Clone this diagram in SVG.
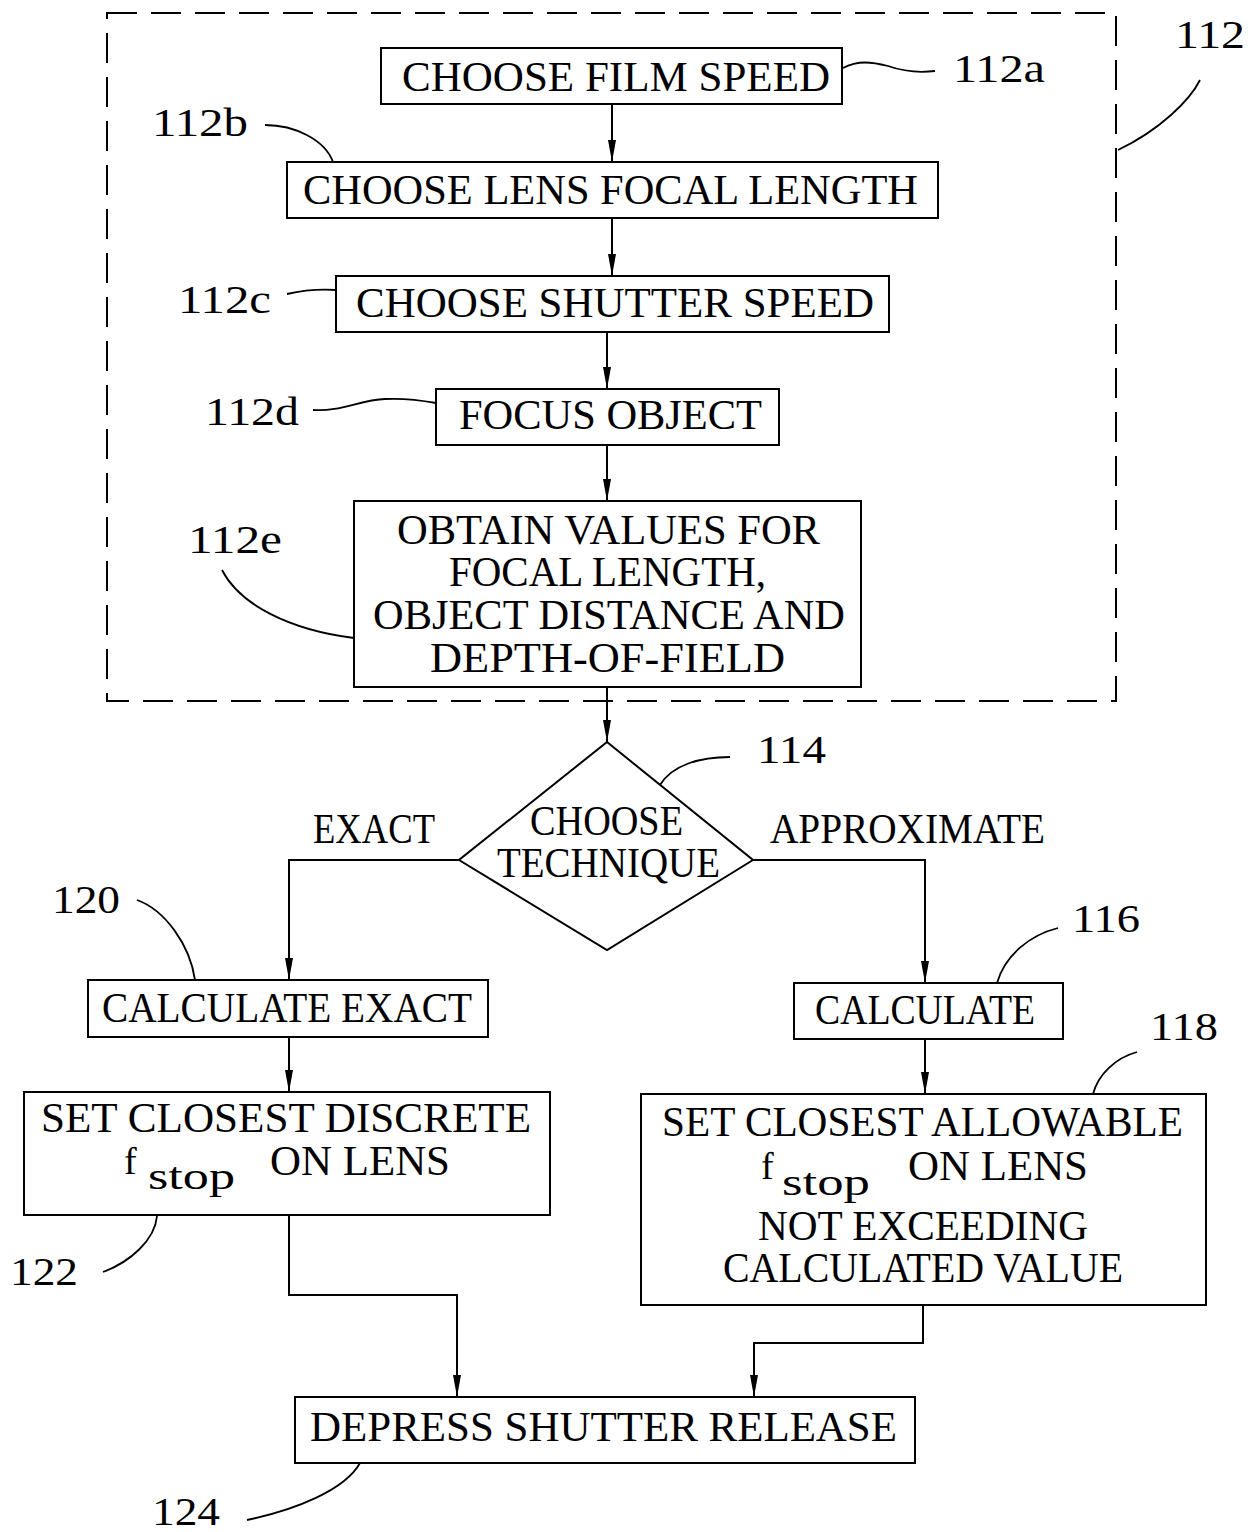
<svg xmlns="http://www.w3.org/2000/svg" width="1253" height="1532" viewBox="0 0 1253 1532">
  <style>
    .box { fill: #fff; stroke: #000; stroke-width: 2; }
    .line { fill: none; stroke: #000; stroke-width: 2; }
    .lead { fill: none; stroke: #000; stroke-width: 1.8; }
    .t { font-family: "Liberation Serif", "DejaVu Serif", serif; font-size: 42px; fill: #000; }
    .sub { font-family: "Liberation Serif", "DejaVu Serif", serif; font-size: 38px; fill: #000; }
    .num { font-family: "Liberation Serif", "DejaVu Serif", serif; font-size: 40px; fill: #000; }
  </style>
  <defs>
    <marker id="arrow" markerUnits="userSpaceOnUse" markerWidth="24" markerHeight="10" refX="22" refY="4" orient="auto">
      <path d="M0,0 L22,4 L0,8 z" fill="#000"/>
    </marker>
  </defs>
  <rect width="1253" height="1532" fill="#fff"/>

  <!-- dashed enclosure for step group 112 -->
  <g id="group-112">
    <rect x="107" y="13" width="1009" height="688" class="line" stroke-dasharray="30 14"/>
    <text class="num" x="1175" y="48" textLength="70" lengthAdjust="spacingAndGlyphs">112</text>
    <path class="lead" d="M1118,150 C1160,130 1190,100 1200,80"/>
  </g>

  <!-- connectors -->
  <g id="connectors">
    <path class="line" d="M612,104 V162" marker-end="url(#arrow)"/>
    <path class="line" d="M612,218 V276" marker-end="url(#arrow)"/>
    <path class="line" d="M607,332 V389" marker-end="url(#arrow)"/>
    <path class="line" d="M607,445 V501" marker-end="url(#arrow)"/>
    <path class="line" d="M607,687 V742" marker-end="url(#arrow)"/>
    <path class="line" d="M459,860 H289 V980" marker-end="url(#arrow)"/>
    <path class="line" d="M753,860 H925 V983" marker-end="url(#arrow)"/>
    <path class="line" d="M289,1037 V1092" marker-end="url(#arrow)"/>
    <path class="line" d="M925,1039 V1094" marker-end="url(#arrow)"/>
    <path class="line" d="M289,1215 V1295 H457 V1397" marker-end="url(#arrow)"/>
    <path class="line" d="M923,1305 V1343 H754 V1397" marker-end="url(#arrow)"/>
  </g>

  <g id="node-112a">
    <rect class="box" x="381" y="48" width="461" height="56"/>
    <text class="t" x="402" y="91" textLength="428" lengthAdjust="spacingAndGlyphs">CHOOSE FILM SPEED</text>
    <path class="lead" d="M843,68 C858,60 872,62 888,66 C905,72 918,73 935,71"/>
    <text class="num" x="953" y="82" textLength="92" lengthAdjust="spacingAndGlyphs">112a</text>
  </g>

  <g id="node-112b">
    <rect class="box" x="287" y="162" width="651" height="56"/>
    <text class="t" x="303" y="204" textLength="615" lengthAdjust="spacingAndGlyphs">CHOOSE LENS FOCAL LENGTH</text>
    <path class="lead" d="M265,125 C295,125 325,140 333,162"/>
    <text class="num" x="152" y="136" textLength="96" lengthAdjust="spacingAndGlyphs">112b</text>
  </g>

  <g id="node-112c">
    <rect class="box" x="336" y="276" width="553" height="56"/>
    <text class="t" x="356" y="317" textLength="518" lengthAdjust="spacingAndGlyphs">CHOOSE SHUTTER SPEED</text>
    <path class="lead" d="M287,294 C300,291 318,289 336,290"/>
    <text class="num" x="178" y="313" textLength="93" lengthAdjust="spacingAndGlyphs">112c</text>
  </g>

  <g id="node-112d">
    <rect class="box" x="436" y="389" width="343" height="56"/>
    <text class="t" x="459" y="429" textLength="303" lengthAdjust="spacingAndGlyphs">FOCUS OBJECT</text>
    <path class="lead" d="M313,410 C340,412 360,400 385,399 C405,398 420,400 436,403"/>
    <text class="num" x="205" y="425" textLength="94" lengthAdjust="spacingAndGlyphs">112d</text>
  </g>

  <g id="node-112e">
    <rect class="box" x="354" y="501" width="507" height="186"/>
    <text class="t" x="397" y="544" textLength="423" lengthAdjust="spacingAndGlyphs">OBTAIN VALUES FOR</text>
    <text class="t" x="449" y="586" textLength="317" lengthAdjust="spacingAndGlyphs">FOCAL LENGTH,</text>
    <text class="t" x="373" y="629" textLength="472" lengthAdjust="spacingAndGlyphs">OBJECT DISTANCE AND</text>
    <text class="t" x="430" y="672" textLength="355" lengthAdjust="spacingAndGlyphs">DEPTH-OF-FIELD</text>
    <path class="lead" d="M222,570 C240,605 290,630 354,638"/>
    <text class="num" x="188" y="553" textLength="94" lengthAdjust="spacingAndGlyphs">112e</text>
  </g>

  <g id="node-114">
    <path class="box" d="M607,742 L753,860 L607,950 L459,860 Z"/>
    <text class="t" x="530" y="835" textLength="153" lengthAdjust="spacingAndGlyphs">CHOOSE</text>
    <text class="t" x="497" y="877" textLength="223" lengthAdjust="spacingAndGlyphs">TECHNIQUE</text>
    <path class="lead" d="M660,785 C672,765 700,757 730,757"/>
    <text class="num" x="757" y="763" textLength="69" lengthAdjust="spacingAndGlyphs">114</text>
    <text class="t" x="313" y="843" textLength="122" lengthAdjust="spacingAndGlyphs">EXACT</text>
    <text class="t" x="770" y="843" textLength="275" lengthAdjust="spacingAndGlyphs">APPROXIMATE</text>
  </g>

  <g id="node-120">
    <rect class="box" x="88" y="980" width="400" height="57"/>
    <text class="t" x="102" y="1022" textLength="370" lengthAdjust="spacingAndGlyphs">CALCULATE EXACT</text>
    <path class="lead" d="M137,900 C165,910 190,945 195,980"/>
    <text class="num" x="52" y="913" textLength="68" lengthAdjust="spacingAndGlyphs">120</text>
  </g>

  <g id="node-116">
    <rect class="box" x="794" y="983" width="269" height="56"/>
    <text class="t" x="815" y="1024" textLength="220" lengthAdjust="spacingAndGlyphs">CALCULATE</text>
    <path class="lead" d="M1058,928 C1030,935 1005,955 997,983"/>
    <text class="num" x="1072" y="932" textLength="68" lengthAdjust="spacingAndGlyphs">116</text>
  </g>

  <g id="node-122">
    <rect class="box" x="24" y="1092" width="526" height="123"/>
    <text class="t" x="41" y="1132" textLength="490" lengthAdjust="spacingAndGlyphs">SET CLOSEST DISCRETE</text>
    <text class="sub" x="124" y="1174">f</text>
    <text class="sub" x="148" y="1189" textLength="87" lengthAdjust="spacingAndGlyphs">stop</text>
    <text class="t" x="270" y="1175" textLength="180" lengthAdjust="spacingAndGlyphs">ON LENS</text>
    <path class="lead" d="M103,1272 C130,1262 155,1240 157,1216"/>
    <text class="num" x="10" y="1285" textLength="68" lengthAdjust="spacingAndGlyphs">122</text>
  </g>

  <g id="node-118">
    <rect class="box" x="641" y="1094" width="565" height="211"/>
    <text class="t" x="662" y="1136" textLength="521" lengthAdjust="spacingAndGlyphs">SET CLOSEST ALLOWABLE</text>
    <text class="sub" x="761" y="1179">f</text>
    <text class="sub" x="782" y="1195" textLength="88" lengthAdjust="spacingAndGlyphs">stop</text>
    <text class="t" x="908" y="1180" textLength="180" lengthAdjust="spacingAndGlyphs">ON LENS</text>
    <text class="t" x="758" y="1240" textLength="330" lengthAdjust="spacingAndGlyphs">NOT EXCEEDING</text>
    <text class="t" x="723" y="1282" textLength="400" lengthAdjust="spacingAndGlyphs">CALCULATED VALUE</text>
    <path class="lead" d="M1137,1052 C1115,1058 1098,1075 1093,1094"/>
    <text class="num" x="1150" y="1040" textLength="68" lengthAdjust="spacingAndGlyphs">118</text>
  </g>

  <g id="node-124">
    <rect class="box" x="295" y="1397" width="620" height="66"/>
    <text class="t" x="310" y="1441" textLength="587" lengthAdjust="spacingAndGlyphs">DEPRESS SHUTTER RELEASE</text>
    <path class="lead" d="M247,1520 C295,1510 345,1490 360,1463"/>
    <text class="num" x="152" y="1525" textLength="68" lengthAdjust="spacingAndGlyphs">124</text>
  </g>
</svg>
